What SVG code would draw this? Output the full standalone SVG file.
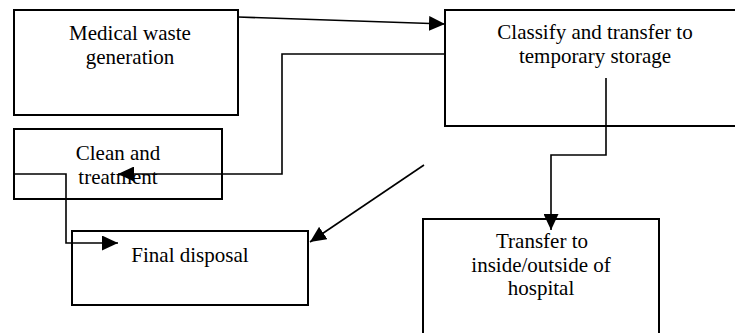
<svg xmlns="http://www.w3.org/2000/svg" width="735" height="333" viewBox="0 0 735 333">
<style>
.box{fill:#fff;stroke:#000;stroke-width:2}
.t{font-family:"Liberation Serif","Times New Roman",serif;font-size:21px;fill:#000;text-anchor:middle}
.c{fill:none;stroke:#000;stroke-width:1.6}
</style>
<defs>
<marker id="ah" markerUnits="userSpaceOnUse" markerWidth="17" markerHeight="15" refX="16" refY="7.5" orient="auto">
<path d="M0,0 L16,7.5 L0,15 Z" fill="#000"/>
</marker>
</defs>
<g id="n1"><rect class="box" x="14" y="10" width="224" height="105"/>
<text class="t" x="130" y="40">Medical waste</text><text class="t" x="130" y="64">generation</text></g>
<g id="n2"><rect class="box" x="445" y="10" width="300" height="116"/>
<text class="t" x="595" y="39">Classify and transfer to</text><text class="t" x="595" y="63">temporary storage</text></g>
<g id="n3"><rect class="box" x="14" y="129" width="208" height="70"/>
<text class="t" x="118" y="160">Clean and</text><text class="t" x="118" y="184">treatment</text></g>
<g id="n4"><rect class="box" x="72" y="231" width="236" height="74"/>
<text class="t" x="190" y="262">Final disposal</text></g>
<g id="n5"><rect class="box" x="423" y="219" width="236" height="130"/>
<text class="t" x="542" y="248">Transfer to</text><text class="t" x="541" y="272">inside/outside of</text><text class="t" x="541" y="295">hospital</text></g>
<g id="connectors">
<path class="c" d="M238,17 L445,24" marker-end="url(#ah)"/>
<path class="c" d="M445,54 L282,54 L282,174 L118,174" marker-end="url(#ah)"/>
<path class="c" d="M14,174 L66,174 L66,243 L118,243" marker-end="url(#ah)"/>
<path class="c" d="M424,165 L310,242" marker-end="url(#ah)"/>
<path class="c" d="M606,78 L606,155 L551,155 L551,230" marker-end="url(#ah)"/>
</g>
</svg>
